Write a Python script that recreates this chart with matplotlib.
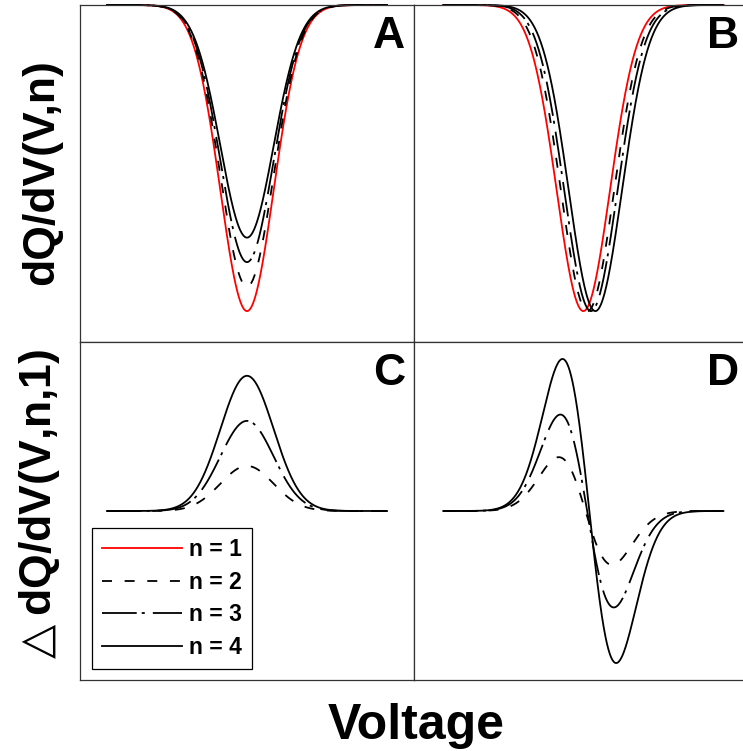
import numpy as np
import matplotlib.pyplot as plt

plt.rcParams['font.family'] = ['Liberation Sans', 'DejaVu Sans']
plt.rcParams['mathtext.fontset'] = 'dejavusans'
plt.rcParams['lines.scale_dashes'] = False

# peak parameters for each cycle number n
n_values = [1, 2, 3, 4]
depth_A = [1.00, 0.92, 0.84, 0.76]       # peak depth (panel A)
shift_B = [0.000, 0.015, 0.027, 0.043]   # peak position shift (panel B)
peak_center = 0.5
peak_width = 0.095
panel_names = ['A', 'B', 'C', 'D']

line_colors = ['red', 'black', 'black', 'black']
line_styles = ['-', (0, (7.2, 9.1)), (0, (25, 3.6, 2.2, 5.8)), '-']

volt = np.linspace(0, 1, 801)


def peak(v, depth, center):
    return -depth * np.exp(-(v - center) ** 2 / (2 * peak_width ** 2))


curves_A = [peak(volt, d, peak_center) for d in depth_A]
curves_B = [peak(volt, 1.0, peak_center + s) for s in shift_B]
diff_C = [c - curves_A[0] for c in curves_A]
diff_D = [c - curves_B[0] for c in curves_B]

W, H = 743, 751
fig = plt.figure(figsize=(W / 100, H / 100), dpi=100)


def px_axes(left, top, width, height):
    return fig.add_axes([left / W, (H - top - height) / H, width / W, height / H])


axA = px_axes(80, 5, 334, 337)
axB = px_axes(414, 5, 334, 337)
axC = px_axes(80, 342, 334, 338)
axD = px_axes(414, 342, 334, 338)

axA.set_xlim(-0.0964, 1.0964)
axC.set_xlim(-0.0964, 1.0964)
axB.set_xlim(-0.1046, 1.088)
axD.set_xlim(-0.1046, 1.088)
for ax in (axA, axB):
    ax.set_ylim(-1.101, 0)
for ax in (axC, axD):
    ax.set_ylim(-0.30, 0.30)

handles = []
for i, n in enumerate(n_values):
    ln, = axA.plot(volt, curves_A[i], color=line_colors[i], linestyle=line_styles[i],
                   lw=1.3, clip_on=False, label=f'n = {n}')
    handles.append(ln)
    axB.plot(volt, curves_B[i], color=line_colors[i], linestyle=line_styles[i],
             lw=1.3, clip_on=False)
    if n > 1:
        axC.plot(volt, diff_C[i], color=line_colors[i], linestyle=line_styles[i], lw=1.3)
        axD.plot(volt, diff_D[i], color=line_colors[i], linestyle=line_styles[i], lw=1.3)

for ax, name in zip((axA, axB, axC, axD), panel_names):
    ax.set_xticks([])
    ax.set_yticks([])
    for sp in ax.spines.values():
        sp.set_color('#333333')
        sp.set_linewidth(0.9)
    ax.annotate(name, xy=(0, 1), xycoords='axes fraction',
                xytext=(234, -31), textcoords='offset points',
                ha='right', va='baseline', fontsize=32, fontweight='bold')

leg = axC.legend(handles=handles, loc='lower left', bbox_to_anchor=(0.035, 0.032),
                 prop={'size': 16.5, 'weight': 'bold'}, handlelength=3.5,
                 handletextpad=0.3, labelspacing=0.42, borderpad=0.45,
                 borderaxespad=0, fancybox=False, framealpha=1, edgecolor='black')
leg.get_frame().set_linewidth(0.9)

fig.text(41.5 / W, 1 - 172.5 / H, 'dQ/dV(V,n)', rotation=90, ha='center', va='center',
         fontsize=32, fontweight='bold')
fig.text(40 / W, 1 - 507.5 / H, r'$\triangle$dQ/dV(V,n,1)', rotation=90, ha='center',
         va='center', fontsize=32, fontweight='bold')
fig.text(416.5 / W, 12 / H, 'Voltage', ha='center', va='baseline',
         fontsize=36, fontweight='bold')

fig.savefig('out.png', dpi=100)
